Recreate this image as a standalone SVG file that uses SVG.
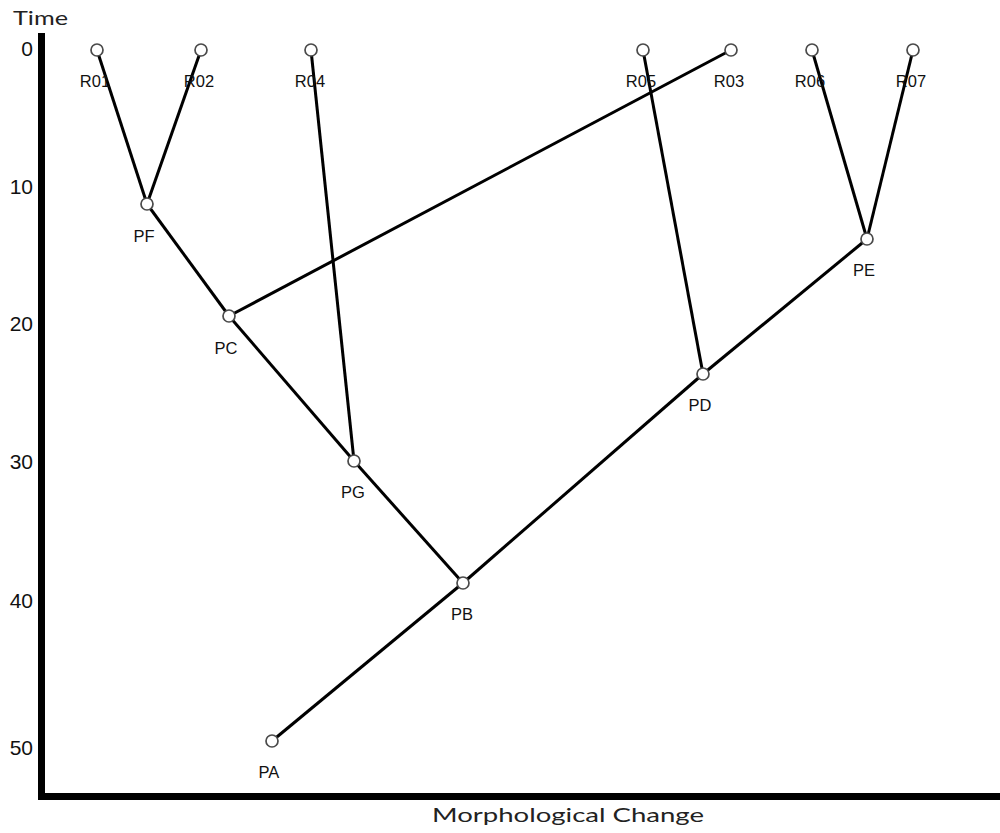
<svg xmlns="http://www.w3.org/2000/svg" width="1000" height="833" viewBox="0 0 1000 833">
<style>
.edge{stroke:#000;stroke-width:3;fill:none}
.node circle{fill:#fff;stroke:#4a4a4a;stroke-width:1.7}
.lbl{font-family:"Liberation Sans",Arial,sans-serif;font-size:16.5px;fill:#111;text-anchor:middle}
.tick{font-family:"Liberation Sans",Arial,sans-serif;font-size:21px;fill:#111;text-anchor:end}
.title{font-family:"Lato","DejaVu Sans",sans-serif;font-size:19px;fill:#222}
</style>
<rect width="1000" height="833" fill="#fff"/>
<g id="axes">
<rect x="38" y="33" width="7" height="767" fill="#000"/>
<rect x="38" y="793" width="962" height="7" fill="#000"/>
<text class="title" x="13" y="25" textLength="55" lengthAdjust="spacingAndGlyphs">Time</text>
<text class="title" x="432" y="822" textLength="272" lengthAdjust="spacingAndGlyphs">Morphological Change</text>
<text class="tick" x="33" y="56">0</text>
<text class="tick" x="33" y="194">10</text>
<text class="tick" x="33" y="331">20</text>
<text class="tick" x="33" y="469">30</text>
<text class="tick" x="33" y="608">40</text>
<text class="tick" x="33" y="755">50</text>
</g>
<g id="connectors">
<line class="edge" x1="97" y1="50" x2="147" y2="204"/>
<line class="edge" x1="201" y1="50" x2="147" y2="204"/>
<line class="edge" x1="147" y1="204" x2="229" y2="316"/>
<line class="edge" x1="731" y1="50" x2="229" y2="316"/>
<line class="edge" x1="229" y1="316" x2="354" y2="461"/>
<line class="edge" x1="311" y1="50" x2="354" y2="461"/>
<line class="edge" x1="354" y1="461" x2="463" y2="583"/>
<line class="edge" x1="272" y1="741" x2="463" y2="583"/>
<line class="edge" x1="463" y1="583" x2="703" y2="374"/>
<line class="edge" x1="643" y1="50" x2="703" y2="374"/>
<line class="edge" x1="703" y1="374" x2="867" y2="239"/>
<line class="edge" x1="812" y1="50" x2="867" y2="239"/>
<line class="edge" x1="913" y1="50" x2="867" y2="239"/>
</g>
<g id="R01" class="node"><circle cx="97" cy="50" r="6"/><text class="lbl" x="95" y="87">R01</text></g>
<g id="R02" class="node"><circle cx="201" cy="50" r="6"/><text class="lbl" x="199" y="87">R02</text></g>
<g id="R04" class="node"><circle cx="311" cy="50" r="6"/><text class="lbl" x="310" y="87">R04</text></g>
<g id="R05" class="node"><circle cx="643" cy="50" r="6"/><text class="lbl" x="641" y="87">R05</text></g>
<g id="R03" class="node"><circle cx="731" cy="50" r="6"/><text class="lbl" x="729" y="87">R03</text></g>
<g id="R06" class="node"><circle cx="812" cy="50" r="6"/><text class="lbl" x="810" y="87">R06</text></g>
<g id="R07" class="node"><circle cx="913" cy="50" r="6"/><text class="lbl" x="911" y="87">R07</text></g>
<g id="PF" class="node"><circle cx="147" cy="204" r="6"/><text class="lbl" x="144" y="242">PF</text></g>
<g id="PC" class="node"><circle cx="229" cy="316" r="6"/><text class="lbl" x="226" y="354">PC</text></g>
<g id="PG" class="node"><circle cx="354" cy="461" r="6"/><text class="lbl" x="353" y="498">PG</text></g>
<g id="PB" class="node"><circle cx="463" cy="583" r="6"/><text class="lbl" x="462" y="620">PB</text></g>
<g id="PA" class="node"><circle cx="272" cy="741" r="6"/><text class="lbl" x="269" y="778">PA</text></g>
<g id="PD" class="node"><circle cx="703" cy="374" r="6"/><text class="lbl" x="700" y="411">PD</text></g>
<g id="PE" class="node"><circle cx="867" cy="239" r="6"/><text class="lbl" x="864" y="276">PE</text></g>
</svg>
